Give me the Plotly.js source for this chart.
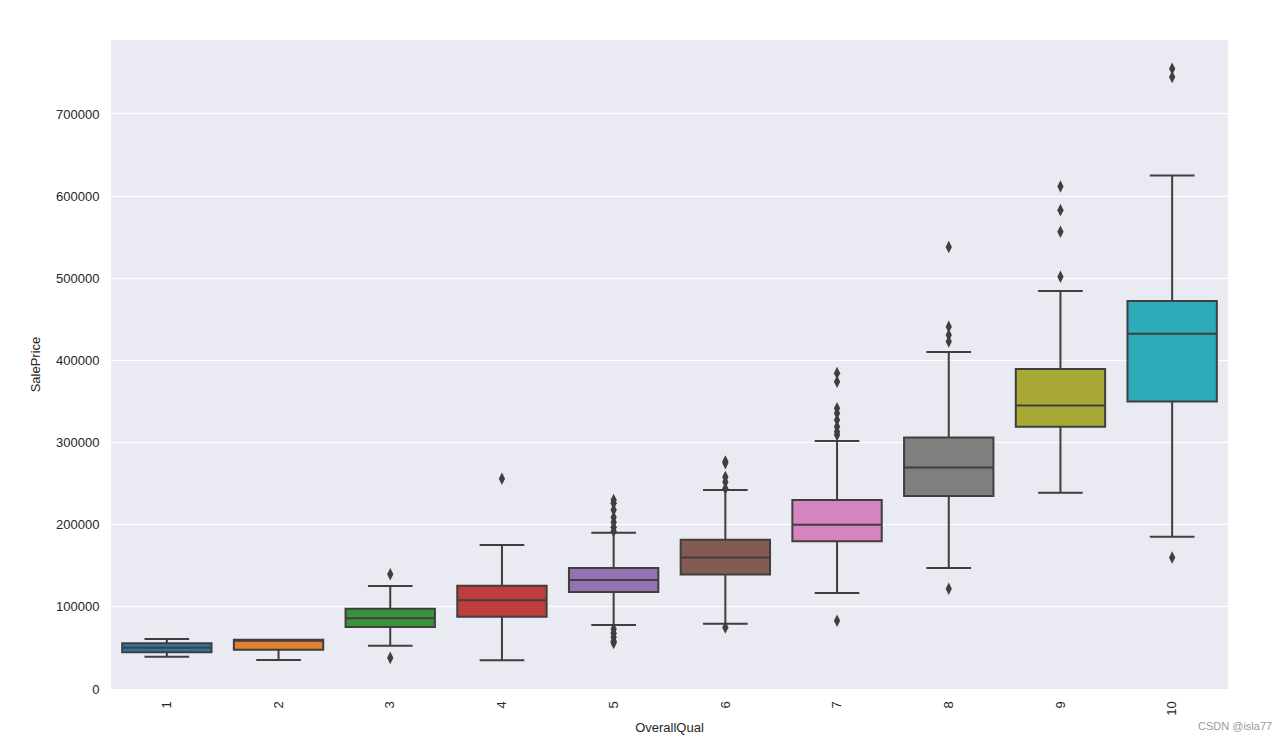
<!DOCTYPE html>
<html>
<head>
<meta charset="utf-8">
<script src="https://cdn.plot.ly/plotly-3.0.1.min.js"></script>
<style>html,body{margin:0;padding:0;background:#fff;}#chart{width:1287px;height:740px;}</style>
</head>
<body>
<div id="chart"></div>
<script>
// Data
const categories = ['1','2','3','4','5','6','7','8','9','10'];
const q1Values      = [44725, 47655, 75500, 88000, 118000, 139300, 180000, 235000, 319300, 350000];
const medianValues  = [50150, 60000, 86250, 108000, 132700, 160000, 200000, 269500, 345000, 432400];
const q3Values      = [55575, 60000, 97800, 125800, 147300, 181800, 230000, 306000, 389600, 472400];
const lowerWhiskers = [39300, 35311, 52500, 34900, 78000, 79500, 117000, 147300, 239000, 185400];
const upperWhiskers = [61000, 60000, 125400, 175300, 190300, 242300, 302000, 410300, 484500, 625000];
const outlierValues = [
  [],
  [],
  [139600, 37900],
  [256000],
  [230000, 226000, 218000, 209000, 203000, 197000, 192000, 73000, 68000, 63000, 58000, 55993],
  [277000, 275000, 258000, 252000, 244000, 75000],
  [384500, 374000, 341700, 335600, 327500, 319300, 313200, 309200, 83000],
  [538000, 441000, 431000, 423000, 122000],
  [611700, 582900, 556600, 501800],
  [755000, 745000, 160000]
];
const boxColors = ['#3274a1','#e1812c','#3a923a','#c03d3e','#9372b2','#845b53','#d684bd','#7f7f7f','#a9aa35','#2eabb8'];

const lineColor = '#3f3f3f';
const traces = [];
categories.forEach((c, i) => {
  traces.push({
    type: 'box',
    x: [c],
    q1: [q1Values[i]],
    median: [medianValues[i]],
    q3: [q3Values[i]],
    lowerfence: [lowerWhiskers[i]],
    upperfence: [upperWhiskers[i]],
    width: 0.8,
    whiskerwidth: 0.5,
    boxpoints: false,
    fillcolor: boxColors[i],
    line: {color: lineColor, width: 2},
    showlegend: false,
    hoverinfo: 'skip'
  });
});
const ox = [], oy = [];
categories.forEach((c, i) => {
  outlierValues[i].forEach(v => { ox.push(c); oy.push(v); });
});
traces.push({
  type: 'scatter',
  mode: 'markers',
  x: ox,
  y: oy,
  marker: {symbol: 'diamond-tall', size: 9, color: lineColor, line: {width: 0}},
  showlegend: false,
  hoverinfo: 'skip'
});

const font = {family: '"Liberation Sans", Arial, sans-serif', size: 13, color: '#262626'};
const layout = {
  width: 1287,
  height: 740,
  margin: {l: 111, r: 59, t: 40, b: 51},
  paper_bgcolor: '#ffffff',
  plot_bgcolor: '#eaeaf2',
  font: font,
  boxmode: 'overlay',
  showlegend: false,
  xaxis: {
    type: 'category',
    categoryorder: 'array',
    categoryarray: categories,
    range: [-0.5, 9.5],
    tickangle: -90,
    ticks: 'outside',
    ticklen: 6,
    tickcolor: 'rgba(0,0,0,0)',
    showgrid: false,
    zeroline: false,
    showline: false,
    tickfont: font,
    title: {text: 'OverallQual', font: font, standoff: 8}
  },
  yaxis: {
    range: [0, 790000],
    tickvals: [0, 100000, 200000, 300000, 400000, 500000, 600000, 700000],
    ticktext: ['0','100000','200000','300000','400000','500000','600000','700000'],
    ticks: 'outside',
    ticklen: 8,
    tickcolor: 'rgba(0,0,0,0)',
    showgrid: true,
    gridcolor: '#ffffff',
    gridwidth: 1,
    zeroline: false,
    showline: false,
    tickfont: font,
    title: {text: 'SalePrice', font: font, standoff: 12}
  },
  annotations: [{
    xref: 'paper', yref: 'paper',
    x: 1.0065, y: -0.057,
    xanchor: 'center', yanchor: 'middle',
    text: 'CSDN @isla77',
    showarrow: false,
    font: {family: '"Liberation Sans", Arial, sans-serif', size: 11, color: '#9a9a9a'}
  }]
};

Plotly.newPlot('chart', traces, layout, {displayModeBar: false, staticPlot: true});
</script>
</body>
</html>
